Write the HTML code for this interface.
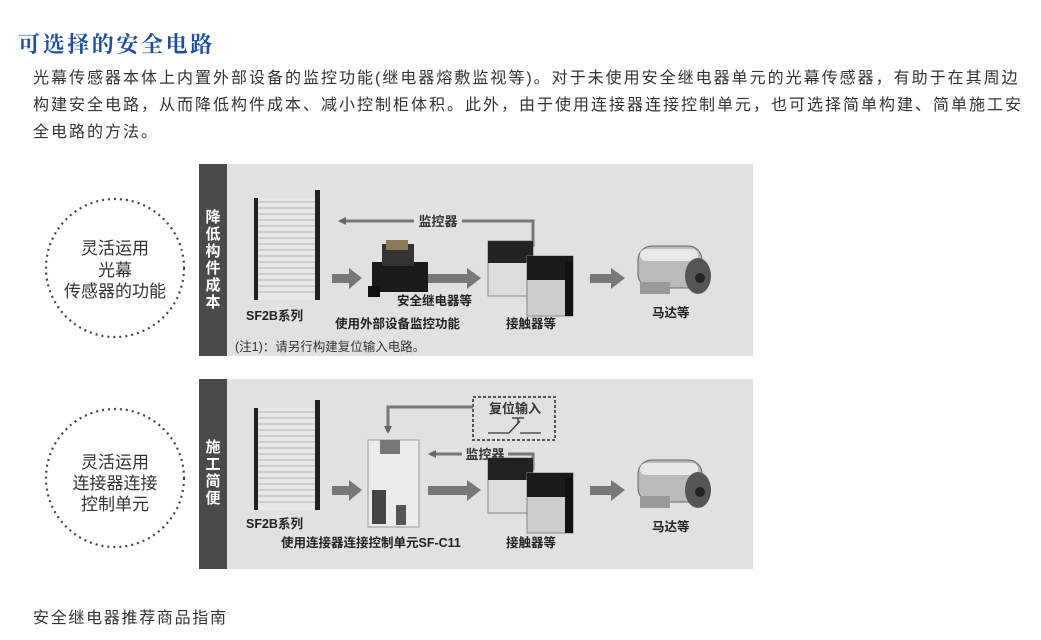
<!DOCTYPE html>
<html><head><meta charset="utf-8"><style>
html,body{margin:0;padding:0;background:#fff;}
body{width:1041px;height:640px;position:relative;overflow:hidden;font-family:"Liberation Sans","Noto Sans CJK SC",sans-serif;}
.t{position:absolute;white-space:nowrap;}
</style></head><body>
<div class="t" style="left:18px;top:28px;font-size:22px;font-weight:bold;color:#1d4ea0;font-family:'Liberation Serif','Noto Serif CJK SC',serif;letter-spacing:2.6px;">可选择的安全电路</div>
<div class="t" style="left:33px;top:65px;font-size:16px;color:#333;line-height:27px;letter-spacing:2px;">光幕传感器本体上内置外部设备的监控功能(继电器熔敷监视等)。对于未使用安全继电器单元的光幕传感器，有助于在其周边<br>构建安全电路，从而降低构件成本、减小控制柜体积。此外，由于使用连接器连接控制单元，也可选择简单构建、简单施工安<br>全电路的方法。</div>
<div class="t" style="left:33px;top:604px;font-size:16px;color:#333;letter-spacing:1.7px;">安全继电器推荐商品指南</div>
<svg width="1041" height="640" style="position:absolute;left:0;top:0" font-family="Liberation Sans,Noto Sans CJK SC,sans-serif">
<defs>
<marker id="ah" markerWidth="8" markerHeight="8" refX="6" refY="4" orient="auto" markerUnits="userSpaceOnUse"><path d="M0,0 L8,4 L0,8z" fill="#666"/></marker>
<g id="curtain">
 <rect x="254" y="0" width="4" height="102" fill="#222"/>
 <rect x="315" y="-8" width="5" height="110" fill="#222"/>
 <g stroke="#999" stroke-width="1">
  <line x1="258" y1="4" x2="315" y2="4"/><line x1="258" y1="10" x2="315" y2="10"/><line x1="258" y1="16" x2="315" y2="16"/><line x1="258" y1="22" x2="315" y2="22"/><line x1="258" y1="28" x2="315" y2="28"/><line x1="258" y1="34" x2="315" y2="34"/><line x1="258" y1="40" x2="315" y2="40"/><line x1="258" y1="46" x2="315" y2="46"/><line x1="258" y1="52" x2="315" y2="52"/><line x1="258" y1="58" x2="315" y2="58"/><line x1="258" y1="64" x2="315" y2="64"/><line x1="258" y1="70" x2="315" y2="70"/><line x1="258" y1="76" x2="315" y2="76"/><line x1="258" y1="82" x2="315" y2="82"/><line x1="258" y1="88" x2="315" y2="88"/><line x1="258" y1="94" x2="315" y2="94"/>
 </g>
 <rect x="258" y="0" width="57" height="102" fill="#fff" opacity="0.25"/>
</g>
<g id="cont">
 <rect x="488" y="0" width="45" height="55" fill="#ddd" stroke="#888"/>
 <rect x="488" y="0" width="45" height="22" fill="#222"/>
 <rect x="527" y="15" width="46" height="60" fill="#ccc" stroke="#888"/>
 <rect x="527" y="15" width="46" height="24" fill="#1a1a1a"/>
 <rect x="565" y="20" width="8" height="55" fill="#111"/>
</g>
<g id="motor">
 <rect x="638" y="0" width="64" height="42" rx="14" fill="#bbb" stroke="#666"/>
 <rect x="640" y="3" width="58" height="12" rx="6" fill="#e8e8e8"/>
 <ellipse cx="698" cy="30" rx="13" ry="18" fill="#555"/>
 <circle cx="700" cy="32" r="5" fill="#222"/>
 <rect x="640" y="36" width="30" height="12" fill="#999"/>
</g>
</defs>
<circle cx="115" cy="268" r="69" fill="none" stroke="#444" stroke-width="2.2" stroke-dasharray="2 4"/>
<circle cx="115" cy="478" r="69" fill="none" stroke="#444" stroke-width="2.2" stroke-dasharray="2 4"/>
<g font-size="17" fill="#333" text-anchor="middle">
 <text x="115" y="254">灵活运用</text><text x="115" y="276">光幕</text><text x="115" y="297">传感器的功能</text>
 <text x="115" y="468">灵活运用</text><text x="115" y="489">连接器连接</text><text x="115" y="510">控制单元</text>
</g>
<rect x="199" y="164" width="554" height="192" fill="#e1e1e1"/>
<rect x="199" y="164" width="28" height="192" fill="#4a4a4a"/>
<g fill="#fff" font-size="15" font-weight="bold" text-anchor="middle">
 <text x="213" y="222">降</text><text x="213" y="239">低</text><text x="213" y="256">构</text><text x="213" y="273">件</text><text x="213" y="290">成</text><text x="213" y="307">本</text>
</g>
<use href="#curtain" y="198"/>
<polyline points="533,247 533,221 340,221" fill="none" stroke="#777" stroke-width="3" marker-end="url(#ah)"/>
<rect x="414" y="212" width="48" height="18" fill="#e1e1e1"/>
<text x="438" y="226" font-size="13" font-weight="bold" fill="#333" text-anchor="middle">监控器</text>
<g fill="#777">
 <rect x="332" y="274" width="18" height="9"/><path d="M349,268 L362,278 L349,289z"/>
 <rect x="428" y="274" width="40" height="9"/><path d="M467,268 L481,278 L467,289z"/>
 <rect x="590" y="274" width="22" height="9"/><path d="M611,268 L625,278 L611,289z"/>
</g>
<g>
 <rect x="372" y="262" width="56" height="30" fill="#1a1a1a"/>
 <rect x="382" y="244" width="32" height="22" fill="#333"/>
 <rect x="386" y="240" width="22" height="10" fill="#8a7a55"/>
 <rect x="368" y="286" width="12" height="11" fill="#111"/>
</g>
<use href="#cont" y="241"/>
<use href="#motor" y="246"/>
<g font-size="12.5" font-weight="bold" fill="#222">
 <text x="246" y="320">SF2B系列</text>
 <text x="397" y="305">安全继电器等</text>
 <text x="335" y="328">使用外部设备监控功能</text>
 <text x="506" y="328">接触器等</text>
 <text x="652" y="317">马达等</text>
 <text x="235" y="351" font-weight="normal" fill="#333">(注1)：请另行构建复位输入电路。</text>
</g>
<rect x="199" y="379" width="554" height="190" fill="#e1e1e1"/>
<rect x="199" y="379" width="28" height="190" fill="#4a4a4a"/>
<g fill="#fff" font-size="15" font-weight="bold" text-anchor="middle">
 <text x="213" y="452">施</text><text x="213" y="469">工</text><text x="213" y="486">简</text><text x="213" y="503">便</text>
</g>
<use href="#curtain" y="408"/>
<rect x="473" y="397" width="82" height="43" fill="none" stroke="#555" stroke-width="2" stroke-dasharray="3 2"/>
<text x="515" y="413" font-size="13" font-weight="bold" fill="#333" text-anchor="middle">复位输入</text>
<g stroke="#333" stroke-width="1.3" fill="none">
 <line x1="488" y1="433" x2="509" y2="433"/><line x1="509" y1="433" x2="520" y2="421"/><line x1="520" y1="433" x2="541" y2="433"/><line x1="512" y1="418" x2="524" y2="418"/><line x1="518" y1="418" x2="518" y2="423"/>
</g>
<polyline points="473,407 388,407 388,432" fill="none" stroke="#777" stroke-width="3" marker-end="url(#ah)"/>
<polyline points="533,470 533,454 430,454" fill="none" stroke="#777" stroke-width="3" marker-end="url(#ah)"/>
<rect x="462" y="446" width="46" height="17" fill="#e1e1e1"/>
<text x="485" y="459" font-size="13" font-weight="bold" fill="#333" text-anchor="middle">监控器</text>
<g fill="#777">
 <rect x="332" y="486" width="18" height="9"/><path d="M349,480 L362,490 L349,501z"/>
 <rect x="428" y="486" width="40" height="9"/><path d="M467,480 L481,490 L467,501z"/>
 <rect x="590" y="486" width="22" height="9"/><path d="M611,480 L625,490 L611,501z"/>
</g>
<g>
 <rect x="368" y="440" width="51" height="87" fill="#ececec" stroke="#999"/>
 <rect x="380" y="440" width="20" height="14" fill="#777"/>
 <rect x="372" y="490" width="14" height="34" fill="#444"/>
 <rect x="396" y="505" width="10" height="20" fill="#555"/>
</g>
<use href="#cont" y="458"/>
<use href="#motor" y="460"/>
<g font-size="12.5" font-weight="bold" fill="#222">
 <text x="246" y="528">SF2B系列</text>
 <text x="281" y="547">使用连接器连接控制单元SF-C11</text>
 <text x="506" y="547">接触器等</text>
 <text x="652" y="531">马达等</text>
</g>
</svg>
</body></html>
